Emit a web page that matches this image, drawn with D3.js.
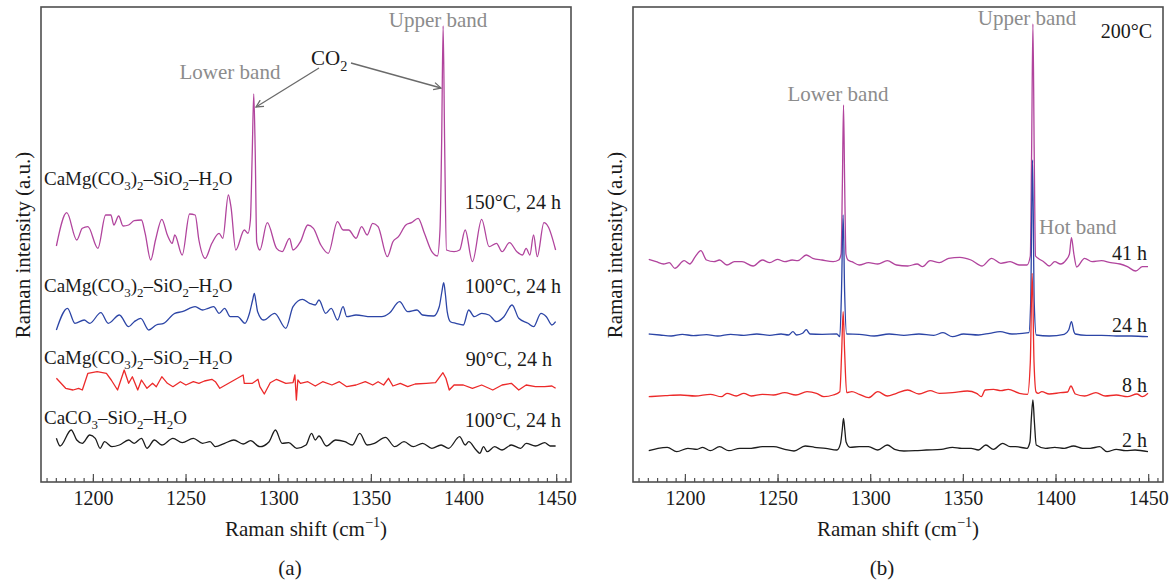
<!DOCTYPE html>
<html><head><meta charset="utf-8">
<script src="https://cdn.jsdelivr.net/npm/d3@7"></script>
<style>
body{margin:0;background:#fff}
text{font-family:"Liberation Serif","Times New Roman","DejaVu Serif",serif}
</style>
</head><body>
<svg id="chart" width="1175" height="582"></svg>
<script>
// ---------- data (x: Raman shift cm^-1, y: intensity a.u., offset stacked) ----------
const xDomain = [1172, 1458];
const majorTicks = [1200, 1250, 1300, 1350, 1400, 1450];
const minorTicks = d3.range(1175, 1456, 5);

// Panel (a)
const a_dol150 = [[1180.3,236],[1185.9,269.3],[1191.3,242],[1194.3,253.7],[1197.3,255.3],[1202.7,233.7],[1206.9,267],[1209.7,267],[1211.3,257],[1213.9,266],[1216.3,256],[1219.3,257],[1222.3,261.3],[1226.2,262],[1228.2,248.7],[1231.2,222],[1233.8,242],[1237.2,262.7],[1240.2,247],[1242.8,238.7],[1244.2,247],[1248.2,227],[1252.2,268],[1255.2,267],[1257.2,242],[1260.6,223.7],[1264.2,238.7],[1268.1,248.7],[1270.1,243.7],[1273.1,287],[1274.5,275.3],[1277.1,232],[1281.7,252],[1283.7,248.7],[1285.0,262],[1286.0,330],[1286.8,388],[1287.6,330],[1288.4,240],[1290.1,232],[1294.1,259.3],[1299.1,233.7],[1302.1,230.3],[1306.1,243.7],[1308.0,232],[1312.0,240.3],[1316.0,257],[1319.0,253.7],[1323.0,237],[1327.0,228.7],[1332.0,260.3],[1335.0,252],[1338.0,252],[1342.0,243.7],[1345.0,255.3],[1348.0,247],[1351.0,258.7],[1353.9,255.3],[1358.9,225.3],[1361.9,240.3],[1364.9,245.3],[1368.9,257],[1371.9,259.3],[1375.5,263.7],[1378.9,248.7],[1382.9,230.3],[1385.9,226],[1387.3,252],[1388.2,340],[1389.0,456],[1389.8,340],[1390.8,232],[1394.9,230.3],[1397.9,232],[1400.9,252],[1404.8,220.3],[1409.8,262.7],[1413.8,235.3],[1417.8,238.7],[1420.8,230.3],[1424.8,239.3],[1428.8,230.3],[1431.8,227],[1433.8,233.7],[1435.8,227],[1437.8,247],[1439.8,225.3],[1443.4,259.3],[1445.7,255.3],[1449.7,232]];
const a_dol100 = [[1180.3,152],[1186.3,173.7],[1190.3,158.7],[1195.3,162],[1198.3,158.7],[1204.3,169.3],[1208.3,158.7],[1214.3,167],[1219.3,155.3],[1222.3,160.3],[1225.8,163.7],[1230.2,152],[1234.2,157],[1238.2,158.7],[1244.2,168.7],[1248.2,170.3],[1255.2,175.3],[1259.2,172],[1262.2,173.7],[1265.2,175.3],[1268.1,168.7],[1271.1,173.7],[1274.1,165.3],[1278.1,165.3],[1282.1,158.7],[1284.5,168.7],[1286.2,182],[1287.1,188.7],[1288.0,180],[1288.9,170.3],[1292.1,162],[1298.1,168.7],[1304.1,153.7],[1308.0,175.3],[1313.0,182.7],[1317.0,178.7],[1320.0,177],[1322.0,182],[1325.6,168.7],[1328.6,173.7],[1332.0,162],[1335.0,175.3],[1337.0,165.3],[1342.0,167],[1350.0,165.3],[1355.9,165.3],[1359.9,168.7],[1365.5,180.3],[1369.9,170.3],[1374.9,172],[1377.9,167],[1383.9,166],[1386.9,175.3],[1388.3,190],[1389.3,199.3],[1390.2,188],[1391.2,170.3],[1392.9,160.3],[1395.9,158.7],[1399.9,157],[1402.8,172],[1405.8,165.3],[1409.8,168.7],[1413.8,167],[1417.8,160.3],[1421.8,165.3],[1426.2,177],[1429.8,163.7],[1434.8,158.7],[1437.8,155.3],[1441.8,168.7],[1444.7,165.3],[1447.7,157],[1449.7,160.3]];
const a_dol90 = [[1180.3,103.7],[1185.3,93.7],[1189.3,92],[1192.3,93.7],[1194.3,92],[1197.3,108.7],[1202.3,110.3],[1207.3,108.7],[1209.9,102],[1213.3,92],[1216.9,112],[1219.3,98.7],[1221.3,105.3],[1224.2,92],[1226.2,102],[1229.2,93.7],[1232.2,98.7],[1234.2,95.3],[1237.2,105.3],[1240.2,98.7],[1243.2,95.3],[1247.2,100.3],[1250.2,97],[1254.2,100.3],[1257.2,98.7],[1260.2,101],[1264.2,102.7],[1266.1,100.3],[1268.5,93.7],[1281.1,107],[1281.7,98.7],[1286.1,98.7],[1289.1,102.7],[1290.1,95.3],[1292.5,88],[1295.7,99.3],[1299.1,102.7],[1304.1,98.7],[1308.0,99.3],[1309.0,107],[1309.8,82],[1310.6,102],[1312.0,98.7],[1316.0,100.3],[1320.0,96],[1324.0,100.3],[1329.0,97],[1333.0,100.3],[1337.0,95.3],[1342.0,97],[1347.0,100.3],[1351.0,97],[1353.9,100.3],[1356.9,97],[1359.5,103.7],[1361.9,96],[1365.9,98.7],[1369.9,95.3],[1373.9,98],[1379.9,98.7],[1384.9,99.3],[1388.9,109.3],[1390.5,103.7],[1392.3,92],[1394.9,97],[1399.9,97],[1404.8,93.7],[1409.8,97],[1415.8,92],[1420.8,97],[1425.8,98.7],[1429.8,92],[1433.8,97],[1438.8,95.3],[1443.8,95.3],[1447.7,96],[1449.7,93.7]];
const a_cal100 = [[1180.3,43.7],[1182.3,36],[1188.3,52],[1191.3,42],[1194.3,38.7],[1198.3,47],[1201.3,43.7],[1203.9,33.7],[1206.3,40.3],[1210.3,35.3],[1214.3,37],[1219.3,42],[1222.3,38.7],[1226.2,43.7],[1229.2,33.7],[1233.2,42],[1237.2,37],[1243.2,43.7],[1248.2,39.3],[1254.2,43.7],[1259.2,38.7],[1263.2,40.3],[1266.1,35.3],[1271.1,38.7],[1276.1,42],[1281.1,38],[1285.1,41.3],[1290.1,35.3],[1295.1,40.3],[1298.5,52],[1302.1,38.7],[1305.7,39.3],[1310.0,33.7],[1315.0,37],[1318.0,48.7],[1320.0,42],[1322.0,46],[1326.0,36],[1331.0,42],[1336.0,40.3],[1340.0,37],[1344.0,48.7],[1348.0,37],[1351.9,38.7],[1357.9,44.7],[1362.9,35.3],[1367.9,40.3],[1372.9,35.3],[1377.9,38.7],[1382.9,33.7],[1387.9,37],[1391.9,33.7],[1397.9,45.3],[1400.9,37],[1402.8,40.3],[1406.8,32],[1408.8,28.7],[1410.8,35.3],[1412.8,30.3],[1416.8,35.3],[1420.8,32],[1425.8,37],[1430.8,33.7],[1433.8,38.7],[1438.8,36],[1443.8,39.3],[1446.7,36],[1449.7,36]];

// Panel (b) 200 °C
const b_41h = [[1180.5,222.7],[1184.5,220.3],[1188.5,218],[1191.6,219.3],[1194.6,213.7],[1199.6,221.3],[1202.6,218],[1205.6,225.3],[1208.6,231.3],[1211.7,222],[1215.7,220.3],[1218.7,222],[1222.7,217],[1226.7,220.3],[1230.8,220.3],[1236.8,216],[1241.8,222],[1245.8,219.3],[1249.9,222.7],[1253.9,220.3],[1257.9,222],[1260.9,221.3],[1265.5,227],[1269.0,223.7],[1274.0,222],[1280.0,220.3],[1283.0,222],[1284.3,228],[1285.0,300],[1285.6,377],[1286.2,300],[1286.9,228],[1288.0,222],[1290.1,220.3],[1294.1,217],[1299.1,219.3],[1304.1,218],[1309.2,221.3],[1314.2,217],[1320.2,216],[1325.3,218],[1328.3,215.3],[1332.3,221.3],[1337.3,219.3],[1342.3,223.7],[1348.4,224.7],[1354.4,222],[1360.4,216],[1365.5,223.7],[1370.5,218.7],[1375.5,220.3],[1380.5,217],[1384.6,217],[1386.4,226],[1387.1,330],[1387.8,458],[1388.5,330],[1389.2,226],[1390.6,223.7],[1393.6,220.3],[1396.6,216],[1399.6,220.3],[1402.7,218],[1405.7,222],[1407.5,228],[1408.6,244.3],[1409.9,228],[1411.4,215],[1415.7,223.7],[1419.7,220.3],[1424.8,221.3],[1429.8,219.3],[1434.8,218],[1438.8,215.3],[1443.3,211],[1446.9,215.3],[1449.9,215.3]];
const b_24h = [[1180.5,148],[1186.5,147],[1192.6,146],[1198.6,147.7],[1204.6,146.3],[1211.7,147.3],[1217.7,146],[1224.7,147.7],[1231.8,146.7],[1238.8,148],[1245.8,146.7],[1251.9,148],[1255.9,147],[1258.3,150.3],[1260.3,147],[1263.5,148.7],[1265.5,152.3],[1267.5,148],[1274.0,147.7],[1282.0,148],[1283.6,145.3],[1284.5,190],[1285.4,267],[1286.2,190],[1287.3,148],[1294.1,147.7],[1302.1,146],[1310.2,148],[1318.2,146.7],[1326.3,148],[1334.3,146.7],[1339.3,149.3],[1344.4,145.3],[1350.4,148],[1358.4,147],[1364.5,148.7],[1370.1,150.3],[1376.5,148],[1385.6,149.3],[1386.6,180],[1387.6,322],[1388.5,180],[1389.6,147],[1396.6,146],[1404.7,147.7],[1407.1,152],[1408.6,160.3],[1410.0,150],[1410.7,148],[1416.7,146.7],[1424.8,146.7],[1432.8,146],[1440.9,146],[1449.9,145.3]];
const b_8h = [[1180.5,85.3],[1189.5,86.3],[1197.6,87],[1205.6,86],[1213.7,87.7],[1219.7,85.3],[1222.7,88.7],[1227.7,86],[1231.8,88.7],[1235.8,86],[1241.8,87.7],[1247.8,87],[1253.9,89.3],[1259.9,87],[1265.9,90.3],[1271.0,88.7],[1275.0,85.3],[1280.0,87],[1283.6,90.3],[1284.6,130],[1285.4,170.3],[1286.2,130],[1287.3,89.3],[1290.1,90.3],[1294.1,87.7],[1299.1,84.3],[1304.1,90.3],[1309.2,86],[1314.2,88.7],[1320.2,92],[1326.3,88],[1332.3,91.3],[1337.3,88.7],[1344.4,89.3],[1352.4,91],[1357.4,88.7],[1360.0,85.3],[1362.0,92],[1366.5,92.7],[1370.5,91.3],[1374.5,92.7],[1380.5,88.7],[1384.9,87.7],[1386.4,120],[1387.4,208.7],[1388.4,120],[1389.5,90],[1390.6,88.7],[1392.6,90.3],[1396.6,88],[1402.7,89.3],[1406.5,90],[1408.3,96],[1410.7,88],[1415.7,86],[1421.8,89.3],[1426.8,86],[1432.8,87],[1438.8,85.3],[1443.9,88],[1446.9,85.3],[1449.9,88.7]];
const b_2h = [[1180.5,31.3],[1185.5,33.7],[1190.5,34.7],[1195.6,30.3],[1201.6,33.7],[1206.6,32.7],[1209.6,34.7],[1213.7,31.3],[1218.7,35.3],[1223.7,31.3],[1229.7,33.7],[1235.8,33.7],[1241.8,35.3],[1247.8,35.3],[1253.9,32.7],[1258.9,31],[1264.9,36],[1270.0,34.7],[1276.0,33.7],[1282.0,32],[1284.0,38.7],[1284.9,52],[1285.6,63.7],[1286.3,52],[1287.0,40],[1289.1,34.7],[1294.1,35.3],[1299.1,35.3],[1304.1,32],[1309.2,37],[1313.2,32.7],[1318.2,31],[1324.2,31.3],[1330.3,32],[1338.3,32.7],[1344.4,34.7],[1349.4,33.7],[1354.4,33.7],[1358.4,32],[1362.4,37],[1366.5,32.7],[1371.5,38.7],[1375.5,35.3],[1378.5,35.3],[1384.6,33.7],[1386.2,40],[1387.0,65],[1387.8,82],[1388.6,60],[1389.6,37],[1394.6,33.7],[1399.6,34.7],[1404.7,33.7],[1409.7,36],[1414.7,33.7],[1418.7,33.7],[1423.8,35.3],[1427.8,30.3],[1432.8,32.7],[1437.8,31.3],[1442.9,32],[1449.9,30.3]];

// ---------- drawing ----------
const svg = d3.select('#chart');
const FONT = '"Liberation Serif","Times New Roman","DejaVu Serif",serif';
const TOP = 7, BOTTOM = 482;
const y = d3.scaleLinear().domain([0, 475]).range([BOTTOM, TOP]);
const C = {mag:'#b1449d', blue:'#2c45a6', red:'#ec2a2a', black:'#1c1c1c', gray:'#8c8c8c', frame:'#4f4f4f'};

function rich(g, x, yy, parts, o) {
  o = o || {};
  const size = o.size || 20;
  const t = g.append('text').attr('x', x).attr('y', yy).attr('font-size', size)
    .attr('fill', o.fill || '#1a1a1a').attr('text-anchor', o.anchor || 'start').style('font-family', FONT);
  let cur = 0;
  parts.forEach(p => {
    const [s, k] = typeof p === 'string' ? [p, 'n'] : p;
    const target = k === 'sub' ? size * 0.28 : k === 'sup' ? -size * 0.42 : 0;
    const ts = t.append('tspan').attr('dy', target - cur).text(s);
    if (k !== 'n') ts.attr('font-size', size * 0.68);
    cur = target;
  });
  return t;
}

function panel(x0, x1, series, capX) {
  const g = svg.append('g');
  const x = d3.scaleLinear().domain(xDomain).range([x0, x1]);
  const minor = d3.axisBottom(x).tickValues(minorTicks).tickSizeInner(-4).tickSizeOuter(0).tickFormat('');
  const major = d3.axisBottom(x).tickValues(majorTicks).tickSizeInner(-8).tickSizeOuter(0).tickFormat(d3.format('d'));
  const gm = g.append('g').attr('transform', `translate(0,${BOTTOM})`).call(minor);
  const gM = g.append('g').attr('transform', `translate(0,${BOTTOM})`).call(major);
  [gm, gM].forEach(a => { a.select('.domain').remove(); a.selectAll('line').attr('stroke', C.frame).attr('stroke-width', 1.2); });
  gM.selectAll('text').attr('y', 23).attr('dy', 0).attr('font-size', 20)
    .attr('fill', '#1a1a1a').style('font-family', FONT);
  series.forEach(s => {
    const line = d3.line().x(d => x(d[0])).y(d => y(d[1])).curve(s.curve || d3.curveMonotoneX);
    g.append('path').datum(s.data).attr('d', line).attr('fill', 'none')
      .attr('stroke', s.color).attr('stroke-width', 1.3).attr('stroke-linejoin', 'round');
  });
  g.append('rect').attr('x', x0).attr('y', TOP).attr('width', x1 - x0).attr('height', BOTTOM - TOP)
    .attr('fill', 'none').attr('stroke', C.frame).attr('stroke-width', 1.6);
  const cx = (x0 + x1) / 2;
  rich(g, cx, 536, ['Raman shift (cm', ['−1', 'sup'], ')'], {size: 21, anchor: 'middle'});
  rich(g, cx - 16, 575, [capX], {size: 21, anchor: 'middle'});
  g.append('text').attr('transform', `translate(${x0 - 11},245) rotate(-90)`).attr('font-size', 21)
    .attr('text-anchor', 'middle').attr('fill', '#1a1a1a').style('font-family', FONT).text('Raman intensity (a.u.)');
  return {g, x};
}

// panel (a)
const A = panel(41, 571, [
  {data: a_dol150, color: C.mag},
  {data: a_dol100, color: C.blue},
  {data: a_dol90, color: C.red, curve: d3.curveLinear},
  {data: a_cal100, color: C.black}
], '(a)');
const dolParts = ['CaMg(CO', ['3','sub'], ')', ['2','sub'], '–SiO', ['2','sub'], '–H', ['2','sub'], 'O'];
rich(A.g, 44, 185, dolParts, {size: 19});
rich(A.g, 44, 292, dolParts, {size: 19});
rich(A.g, 44, 364, dolParts, {size: 19});
rich(A.g, 44, 424, ['CaCO', ['3','sub'], '–SiO', ['2','sub'], '–H', ['2','sub'], 'O'], {size: 19});
rich(A.g, 561, 209, ['150°C, 24 h'], {size: 20, anchor: 'end'});
rich(A.g, 561, 293, ['100°C, 24 h'], {size: 20, anchor: 'end'});
rich(A.g, 552, 366, ['90°C, 24 h'], {size: 20, anchor: 'end'});
rich(A.g, 561, 427, ['100°C, 24 h'], {size: 20, anchor: 'end'});
rich(A.g, 438, 27, ['Upper band'], {size: 21, anchor: 'middle', fill: C.gray});
rich(A.g, 230, 79, ['Lower band'], {size: 21, anchor: 'middle', fill: C.gray});
rich(A.g, 311, 65, ['CO', ['2','sub']], {size: 21});

svg.append('defs').append('marker').attr('id', 'arr').attr('viewBox', '0 0 10 10')
  .attr('refX', 9).attr('refY', 5).attr('markerWidth', 9).attr('markerHeight', 9)
  .attr('markerUnits', 'userSpaceOnUse').attr('orient', 'auto')
  .append('path').attr('d', 'M1,1 L9,5 L1,9').attr('fill', 'none').attr('stroke', '#6a6a6a').attr('stroke-width', 1.4);
const arrowPts = [[[319, 68], [256, 107]], [[351, 63], [441, 88]]];
arrowPts.forEach(p => {
  A.g.append('line').attr('x1', p[0][0]).attr('y1', p[0][1]).attr('x2', p[1][0]).attr('y2', p[1][1])
    .attr('stroke', '#6a6a6a').attr('stroke-width', 1.3).attr('marker-end', 'url(#arr)');
});

// panel (b)
const B = panel(633, 1163, [
  {data: b_41h, color: C.mag},
  {data: b_24h, color: C.blue},
  {data: b_8h, color: C.red},
  {data: b_2h, color: C.black}
], '(b)');
rich(B.g, 1027, 25, ['Upper band'], {size: 21, anchor: 'middle', fill: C.gray});
rich(B.g, 838, 101, ['Lower band'], {size: 21, anchor: 'middle', fill: C.gray});
rich(B.g, 1039, 234, ['Hot band'], {size: 21, fill: C.gray});
rich(B.g, 1152, 38, ['200°C'], {size: 20, anchor: 'end'});
rich(B.g, 1147, 260, ['41 h'], {size: 20, anchor: 'end'});
rich(B.g, 1147, 332, ['24 h'], {size: 20, anchor: 'end'});
rich(B.g, 1147, 392, ['8 h'], {size: 20, anchor: 'end'});
rich(B.g, 1147, 447, ['2 h'], {size: 20, anchor: 'end'});
</script>
</body></html>
